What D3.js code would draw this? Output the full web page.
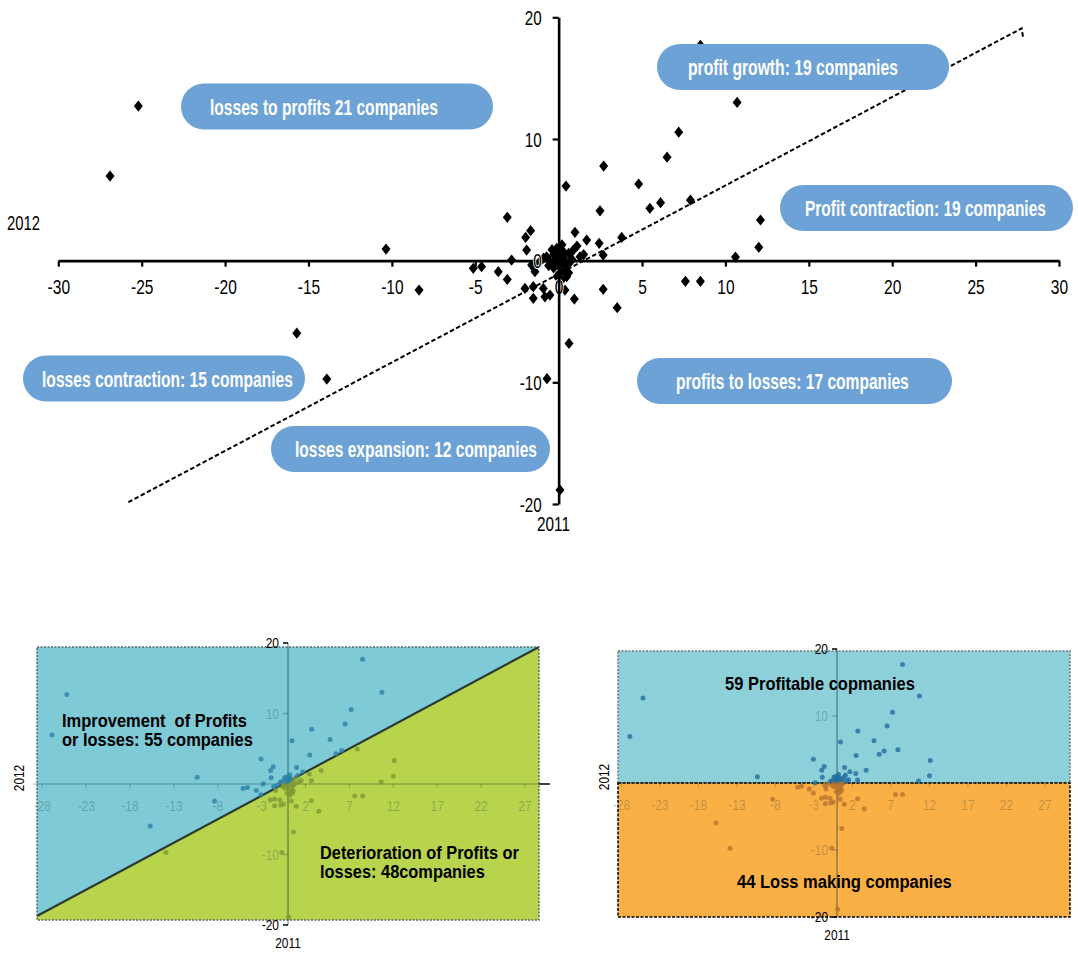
<!DOCTYPE html>
<html><head><meta charset="utf-8">
<script src="https://cdn.jsdelivr.net/npm/d3@7"></script>
<style>body{margin:0;background:#fff} svg{display:block}</style>
</head><body>
<svg id="c" width="1078" height="954"></svg>
<script>
// ---------------- DATA ----------------
const profit2011 = [-25.2,-26.9,-10.35,-8.37,-15.7,-13.9,8.5,10.7,7.2,6.5,2.7,4.8,0.44,6.11,5.47,7.9,12.1,12.0,10.6,3.78,8.5,7.6,2.67,3.51,0.62,-0.7,0.08,
  -3.08,-1.68,-1.98,-1.92,-2.82,-5.12,-4.62,-3.62,-3.08,-1.42,-1.62,0.98,1.68,2.43,2.67,2.48,0.88,1.28,0.38,0.48,0.18,-2.02,-1.52,-1.52,-0.92,-0.82,-0.52,0.38,0.94,-0.72,-0.12,
  -0.3,0.1,0.3,-0.5,0.0,0.5,0.2,-0.2,0.6,-0.9,0.4,0.8,-0.4,0.1,-0.1,0.3,-0.6,0.7,0.2,-0.3,1.5,1.1,0.6,-1.2,-0.1,0.05];
const profit2012 = [12.7,6.95,0.95,-2.42,-5.96,-9.73,17.7,13.0,10.56,8.5,7.77,6.3,6.13,4.76,4.3,4.98,3.34,1.1,0.3,1.91,-1.7,-1.7,-2.36,-3.87,-6.8,-9.7,-18.85,
  3.56,2.46,1.91,0.87,0.05,-0.63,-0.5,-0.91,-1.54,-0.91,-0.36,2.33,1.69,1.42,0.46,4.1,0.87,0.32,-0.91,-1.32,-1.59,-2.28,-2.14,-3.1,-2.28,-2.97,-2.83,-2.42,-3.16,0.32,1.0,
  0.5,0.9,0.2,-0.1,-0.4,-0.3,1.3,0.0,0.6,0.2,-0.7,0.1,0.9,-1.0,0.3,0.7,-0.4,-0.1,-0.2,-0.6,0.5,1.2,-1.0,-0.2,-1.3,0.5];
const trend2011 = [-25.8, 27.76, 27.84];
const trend2012 = [-19.85, 19.09, 18.4];
const xTicks = [-30,-25,-20,-15,-10,-5,0,5,10,15,20,25,30];
const yTicks = [-20,-10,0,10,20];
const smallXTicks = [-28,-23,-18,-13,-8,-3,2,7,12,17,22,27];
const smallYTicks = [-20,-10,10,20];
const quadrantLabels = ["losses to profits 21 companies","profit growth: 19 companies","Profit contraction: 19 companies",
  "losses contraction: 15 companies","profits to losses: 17 companies","losses expansion: 12 companies"];
const trendLabels = [["Improvement  of Profits","or losses: 55 companies"],["Deterioration of Profits or","losses: 48companies"]];
const signLabels = ["59 Profitable copmanies","44 Loss making companies"];
const axisNames = ["2011","2012"];

// ---------------- DRAW ----------------
const svg = d3.select("#c");
const SANS = '"Liberation Sans","Arial",sans-serif';
const pts = profit2011.map((v,i)=>({x:v,y:profit2012[i]}));
const trend = trend2011.map((v,i)=>({x:v,y:trend2012[i]}));
const fmt = d => String(d);

// place a text at (x,y) (start anchor) and squeeze it horizontally to a target width
function fitText(parent, str, x0, y0, width, size, bold, fill){
  const t = parent.append("text").text(str).attr("font-family",SANS).attr("font-size",size)
    .attr("font-weight",bold?"bold":"normal").attr("fill",fill||"#000").style("white-space","pre");
  const w = t.node().getComputedTextLength() || width;
  t.attr("transform",`translate(${x0},${y0}) scale(${width/w},1)`);
  return t;
}

// main chart
const x = d3.scaleLinear().domain([-30,30]).range([58.3,1059]);
const y = d3.scaleLinear().domain([-20,20]).range([504,17.3]);
const main = svg.append("g");

main.append("path").datum(trend)
  .attr("d", d3.line().x(d=>x(d.x)).y(d=>y(d.y)))
  .attr("fill","none").attr("stroke","#000").attr("stroke-width",2).attr("stroke-dasharray","4.5,2.5");

const xAxis = main.append("g").attr("transform",`translate(0,${y(0)})`)
  .call(d3.axisBottom(x).tickValues(xTicks).tickSize(6).tickSizeOuter(0).tickFormat(fmt));
const yAxis = main.append("g").attr("transform",`translate(${x(0)},0)`)
  .call(d3.axisLeft(y).tickValues(yTicks).tickSize(6).tickSizeOuter(0).tickFormat(fmt));
[xAxis,yAxis].forEach(a=>{
  a.select(".domain").attr("stroke","#000").attr("stroke-width",2.6);
  a.selectAll(".tick line").attr("stroke","#000").attr("stroke-width",2.2);
  a.selectAll("text").attr("font-family",SANS).attr("fill","#000")
   .attr("stroke","#fff").attr("stroke-width",2).attr("paint-order","stroke");
});
xAxis.selectAll("text").attr("font-size",21).attr("y",33).attr("dy",0).attr("transform","scale(0.74,1)");
yAxis.selectAll("text").attr("font-size",20).attr("x",-17/0.76).attr("dy","0.36em").attr("transform","scale(0.76,1)");

const diamond = { draw(ctx,size){ const h=Math.sqrt(size)*0.62, w=h*0.8;
  ctx.moveTo(0,-h); ctx.lineTo(w,0); ctx.lineTo(0,h); ctx.lineTo(-w,0); ctx.closePath(); } };
main.append("g").selectAll("path").data(pts).join("path")
  .attr("d", d3.symbol().type(diamond).size(82))
  .attr("transform", d=>`translate(${x(d.x)},${y(d.y)})`)
  .attr("fill","#000");

xAxis.raise(); yAxis.raise();
xAxis.select(".domain").lower(); yAxis.select(".domain").lower();

fitText(main, axisNames[1], 7, 230, 33, 21, false);
fitText(main, axisNames[0], 537, 531, 33, 21, false);

// pills
const pillLayout = [
  {x0:181,x1:493,yc:106.5,tx:210,tw:228},
  {x0:657,x1:949,yc:67,tx:688,tw:210},
  {x0:780,x1:1073,yc:208,tx:805,tw:241},
  {x0:23,x1:305,yc:378.5,tx:42,tw:251},
  {x0:637,x1:952,yc:381,tx:676,tw:233},
  {x0:271,x1:550,yc:449,tx:295,tw:242}
];
const pillH = 46;
const pillG = main.append("g");
quadrantLabels.forEach((lab,i)=>{
  const p = pillLayout[i];
  pillG.append("rect").attr("x",p.x0).attr("y",p.yc-pillH/2).attr("width",p.x1-p.x0).attr("height",pillH)
    .attr("rx",pillH/2).attr("fill","#6ca2d5");
  fitText(pillG, lab, p.tx, p.yc+8, p.tw, 22, true, "#fff");
});

// -------- small charts --------
function smallChart(cfg){
  const g = svg.append("g");
  const sx = d3.scaleLinear().domain(cfg.xd).range(cfg.xr);
  const sy = d3.scaleLinear().domain([-20,20]).range(cfg.yr);
  cfg.backgrounds(g,sx,sy);
  const faded = "rgba(0,45,60,0.26)";
  g.append("line").attr("x1",cfg.xr[0]-4).attr("x2",cfg.xr[1]).attr("y1",sy(0)).attr("y2",sy(0)).attr("stroke",faded).attr("stroke-width",1.3);
  g.append("line").attr("x1",sx(0)).attr("x2",sx(0)).attr("y1",sy(20)).attr("y2",sy(-20)).attr("stroke","rgba(0,45,60,0.45)").attr("stroke-width",1.4);
  g.append("g").selectAll("text").data(smallXTicks).join("text").text(d=>d)
    .attr("transform",d=>`translate(${sx(d)},${sy(0)+27}) scale(0.8,1)`).attr("text-anchor","middle")
    .attr("font-family",SANS).attr("font-size",15).attr("fill",faded);
  g.append("g").selectAll("line").data(smallXTicks).join("line")
    .attr("x1",d=>sx(d)).attr("x2",d=>sx(d)).attr("y1",sy(0)).attr("y2",sy(0)+4).attr("stroke",faded);
  g.append("g").selectAll("text").data(smallYTicks).join("text").text(d=>d)
    .attr("transform",d=>`translate(${sx(0)-9},${sy(d)+5}) scale(0.8,1)`).attr("text-anchor","end")
    .attr("font-family",SANS).attr("font-size",15)
    .attr("fill",d=>Math.abs(d)===20?"#000":faded);
  g.append("g").selectAll("line").data(smallYTicks).join("line")
    .attr("x1",sx(0)-5).attr("x2",sx(0)).attr("y1",d=>sy(d)).attr("y2",d=>sy(d))
    .attr("stroke",d=>Math.abs(d)===20?"#000":faded).attr("stroke-width",1.5);
  g.append("g").selectAll("circle").data(pts).join("circle")
    .attr("cx",d=>sx(d.x)).attr("cy",d=>sy(d.y)).attr("r",2.5)
    .attr("fill",d=>cfg.dotColor(d,sx,sy)).attr("opacity",0.8);
  g.append("text").text(axisNames[0]).attr("transform",`translate(${sx(0)},${sy(-20)+23}) scale(0.85,1)`)
    .attr("text-anchor","middle").attr("font-family",SANS).attr("font-size",14);
  g.append("text").text(axisNames[1]).attr("transform",`translate(${cfg.ylabX},${sy(0)-6}) rotate(-90) scale(0.85,1)`)
    .attr("text-anchor","middle").attr("font-family",SANS).attr("font-size",14);
  cfg.extra(g,sx,sy);
}

// bottom-left: improvement vs deterioration
smallChart({
  xd:[-28.6,28.6], xr:[37,539], yr:[925,643], ylabX:24,
  backgrounds:(g,sx,sy)=>{
    const L=sx(-28.6), R=sx(28.6), T=647, B=920, dy=916;
    g.append("path").attr("d",`M${L},${dy}L${L},${T}L${R},${T}Z`).attr("fill","#7ecad6");
    g.append("path").attr("d",`M${L},${dy}L${R},${T}L${R},${B}L${L},${B}Z`).attr("fill","#b8d34c");
    g.append("path").attr("d",`M${L},${dy}L${R},${T}`).attr("stroke","#2b3a33").attr("stroke-width",2.2).attr("fill","none");
    g.append("rect").attr("x",L).attr("y",T).attr("width",R-L).attr("height",B-T)
      .attr("fill","none").attr("stroke","#5a6a6a").attr("stroke-width",1.5).attr("stroke-dasharray","2,1.5");
  },
  dotColor:(d,sx,sy)=>{ const L=37,R=539,T=647,dy=916;
    const px=sx(d.x), py=sy(d.y), lineY=dy+(T-dy)*(px-L)/(R-L);
    return py<lineY ? "#2a7fa6" : "#7f9a35"; },
  extra:(g,sx,sy)=>{
    g.append("line").attr("x1",539).attr("x2",550).attr("y1",sy(0)).attr("y2",sy(0)).attr("stroke","#000").attr("stroke-width",1.5);
    fitText(g, trendLabels[0][0], 62, 727, 185, 18, true);
    fitText(g, trendLabels[0][1], 62, 746, 191, 18, true);
    fitText(g, trendLabels[1][0], 320, 859, 199, 18, true);
    fitText(g, trendLabels[1][1], 320, 878, 165, 18, true);
  }
});

// bottom-right: profitable vs loss making
smallChart({
  xd:[-28,27], xr:[621.4,1045], yr:[917,649], ylabX:609,
  backgrounds:(g,sx,sy)=>{
    const L=618, R=1070, T=651, M=sy(0), B=917;
    g.append("rect").attr("x",L).attr("y",T).attr("width",R-L).attr("height",M-T).attr("fill","#8dd0da")
      .attr("stroke","#6a7a7a").attr("stroke-width",1.5).attr("stroke-dasharray","2,1.5");
    g.append("rect").attr("x",L).attr("y",M).attr("width",R-L).attr("height",B-M).attr("fill","#fbb045")
      .attr("stroke","#000").attr("stroke-width",1.5).attr("stroke-dasharray","3,1.5");
  },
  dotColor:(d)=> d.y>0 ? "#1f6e9e" : "#b8742e",
  extra:(g,sx,sy)=>{
    fitText(g, signLabels[0], 725, 690, 190, 18, true);
    fitText(g, signLabels[1], 737, 888, 215, 18, true);
  }
});
</script>
</body></html>
